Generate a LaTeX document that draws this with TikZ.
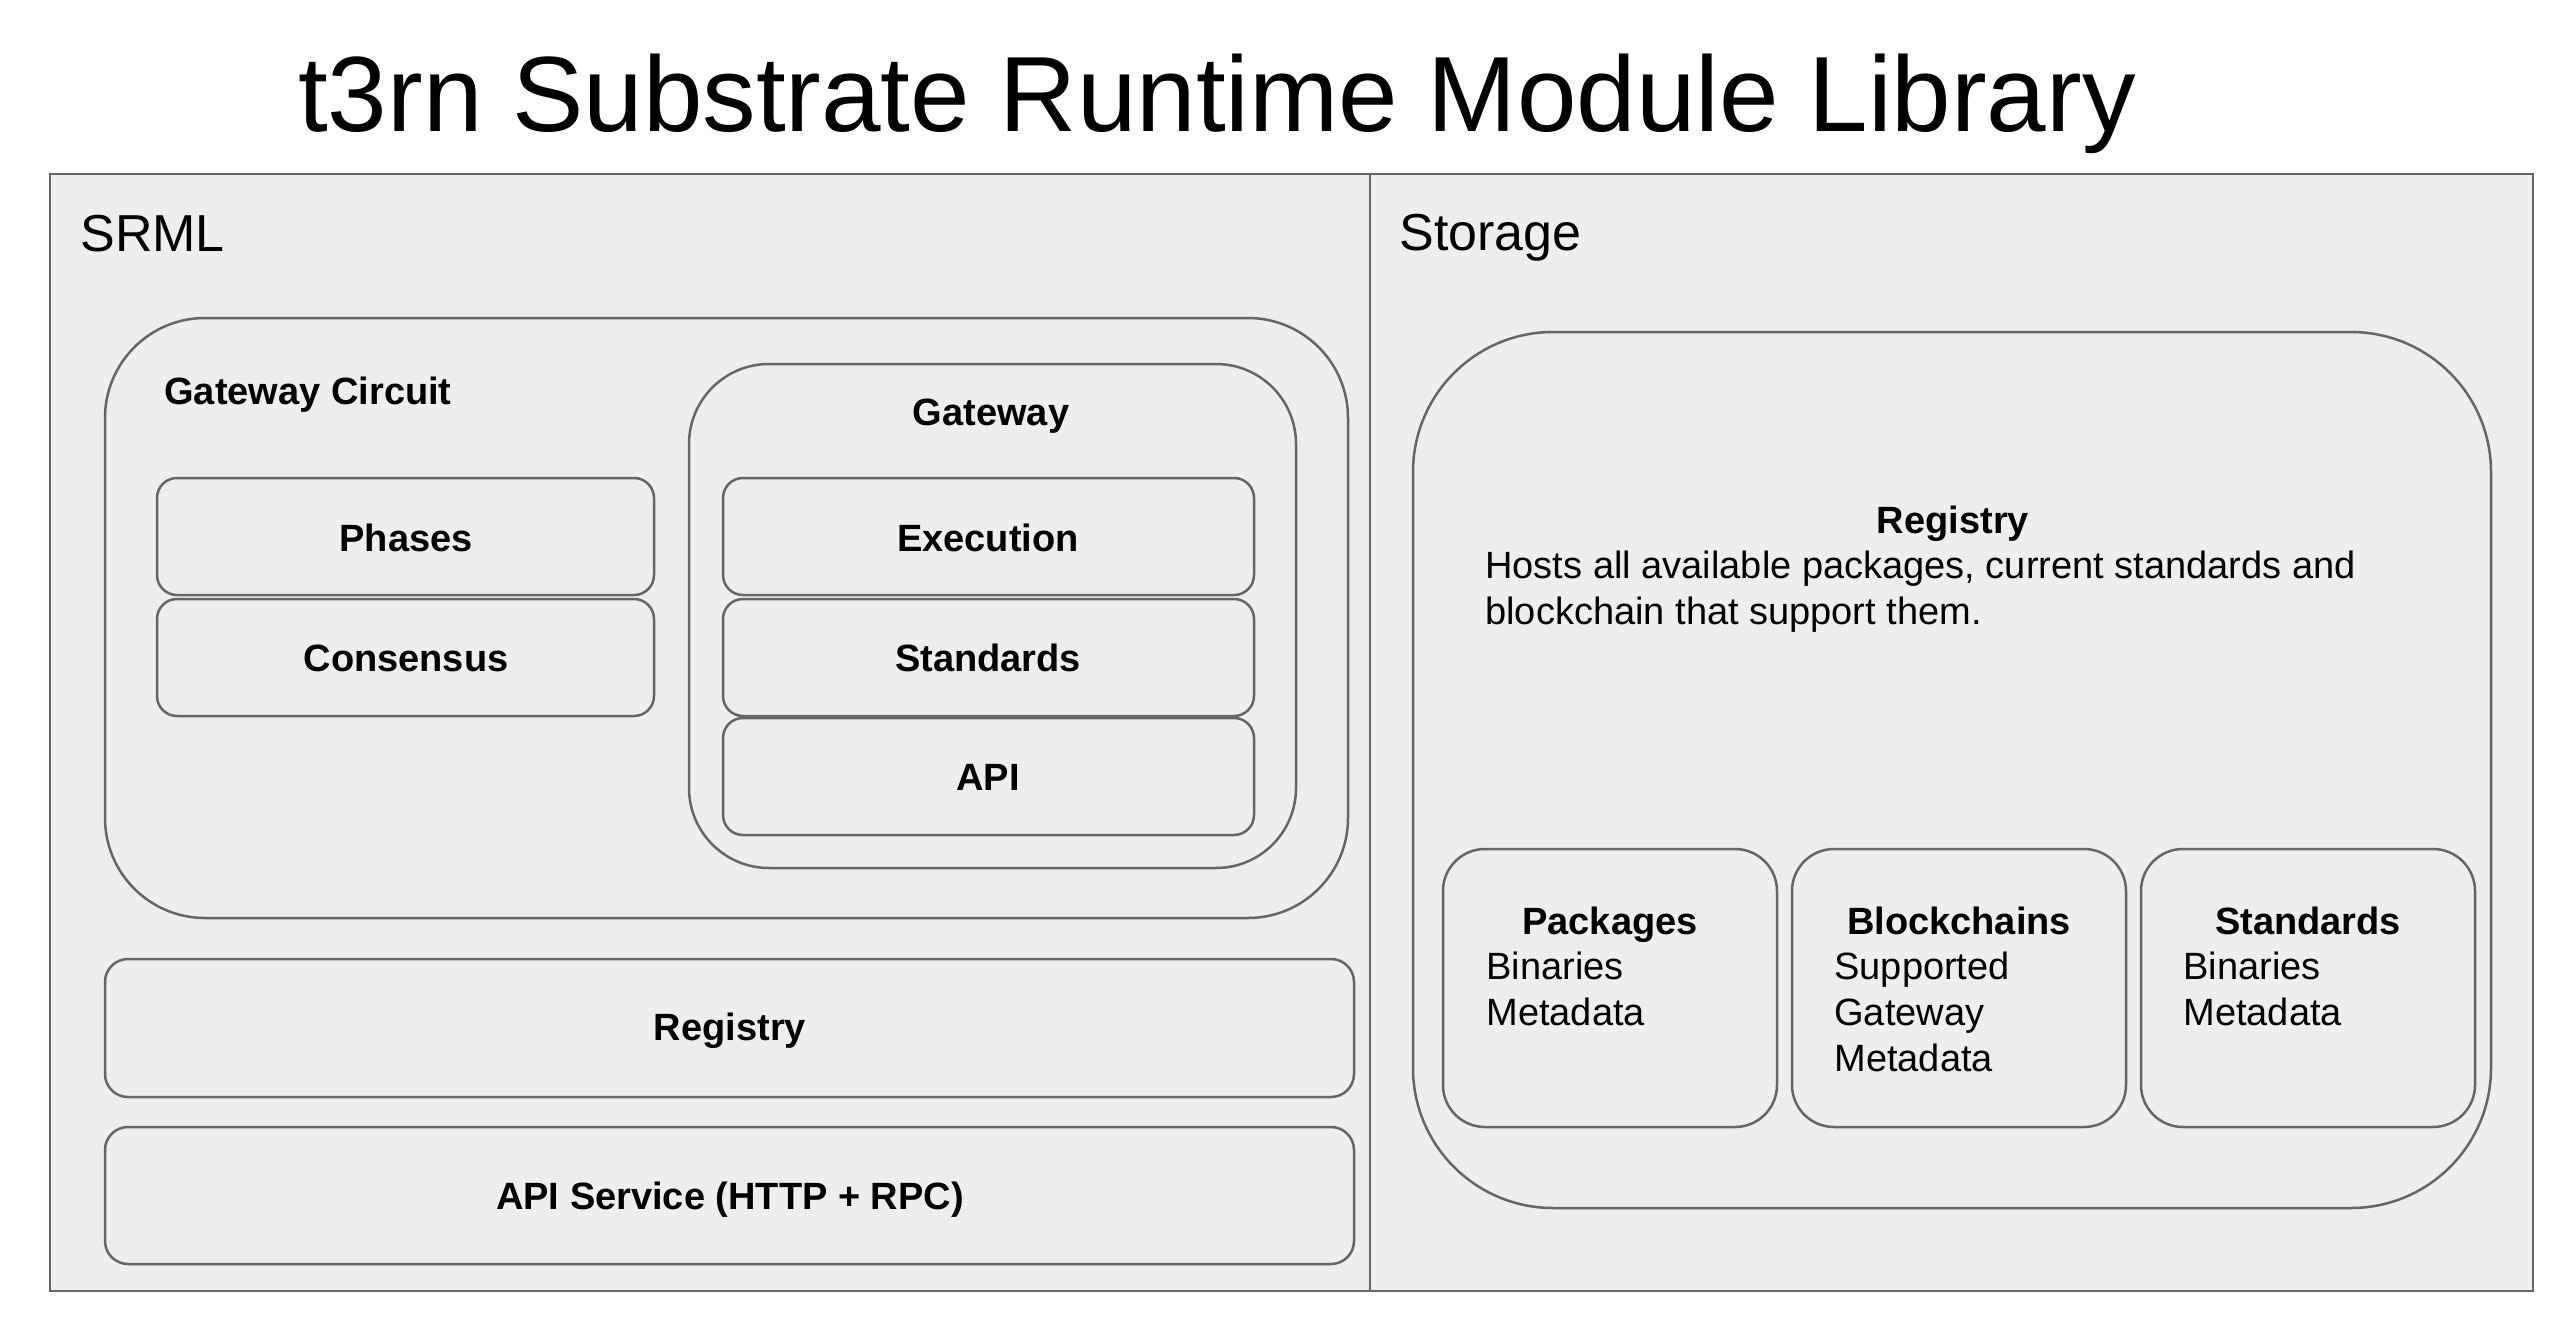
\documentclass[tikz,border=0pt]{standalone}
\usepackage{fontspec}
\setmainfont{Liberation Sans}
\definecolor{boxfill}{HTML}{EEEEEE}
\definecolor{boxline}{HTML}{666666}
\tikzset{
  x=0.5pt, y=-0.5pt,
  frame/.style={draw=boxline, fill=boxfill, line width=1.3pt},
  panel/.style={draw=boxline, fill=boxfill, line width=1.25pt},
  lbl/.style={inner sep=0pt, anchor=base, font=\fontsize{19}{23}\selectfont\bfseries},
  body/.style={inner sep=0pt, anchor=base west, font=\fontsize{19}{23}\selectfont},
  head/.style={inner sep=0pt, anchor=base west, font=\fontsize{26}{30}\selectfont},
}
\begin{document}
\begin{tikzpicture}
\useasboundingbox (0,0) rectangle (2572,1338);
% title
\node[inner sep=0pt, anchor=base] (title) at (1217,132) {\fontsize{53.5}{60}\selectfont t3rn Substrate Runtime Module Library};
% outer frame
\draw[frame] (50,174) rectangle (2533,1291);
\draw[boxline, line width=1.3pt] (1370,174) -- (1370,1291);
\node[head] (srml) at (80,251) {SRML};
\node[head] (storage) at (1399,250) {Storage};
% Gateway Circuit
\draw[panel, rounded corners=50pt] (105,318) rectangle (1348,918);
\node[lbl, anchor=base west] (gc) at (164,404) {Gateway Circuit};
\draw[panel, rounded corners=10pt] (157,478) rectangle (654,595);
\node[lbl] (phases) at (406,551) {Phases};
\draw[panel, rounded corners=10pt] (157,599) rectangle (654,716);
\node[lbl] (consensus) at (406,671) {Consensus};
% Gateway
\draw[panel, rounded corners=40pt] (689,364) rectangle (1296,868);
\node[lbl] (gw) at (991,425) {Gateway};
\draw[panel, rounded corners=10pt] (723,478) rectangle (1254,595);
\node[lbl] (exec) at (988,551) {Execution};
\draw[panel, rounded corners=10pt] (723,599) rectangle (1254,716);
\node[lbl] (std) at (988,671) {Standards};
\draw[panel, rounded corners=10pt] (723,718) rectangle (1254,835);
\node[lbl] (api) at (988,790) {API};
% Registry / API Service
\draw[panel, rounded corners=11.5pt] (105,959) rectangle (1354,1097);
\node[lbl] (reg) at (730,1040) {Registry};
\draw[panel, rounded corners=11.5pt] (105,1127) rectangle (1354,1264);
\node[lbl] (apis) at (730,1209) {API Service (HTTP + RPC)};
% Storage registry
\draw[panel, rounded corners=70pt] (1413,332) rectangle (2491,1208);
\node[lbl] (sreg) at (1953,533) {Registry};
\node[body] (hosts1) at (1485,578) {Hosts all available packages, current standards and};
\node[body] (hosts2) at (1485,624) {blockchain that support them.};
% Packages
\draw[panel, rounded corners=21pt] (1443,849) rectangle (1777,1127);
\node[lbl] (pk) at (1610,934) {Packages};
\node[body] (pk1) at (1486,979) {Binaries};
\node[body] (pk2) at (1486,1025) {Metadata};
% Blockchains
\draw[panel, rounded corners=21pt] (1792,849) rectangle (2126,1127);
\node[lbl] (bc) at (1959,934) {Blockchains};
\node[body] (bc1) at (1834,979) {Supported};
\node[body] (bc2) at (1834,1025) {Gateway};
\node[body] (bc3) at (1834,1071) {Metadata};
% Standards
\draw[panel, rounded corners=21pt] (2141,849) rectangle (2475,1127);
\node[lbl] (st) at (2308,934) {Standards};
\node[body] (st1) at (2183,979) {Binaries};
\node[body] (st2) at (2183,1025) {Metadata};
\end{tikzpicture}
\end{document}
